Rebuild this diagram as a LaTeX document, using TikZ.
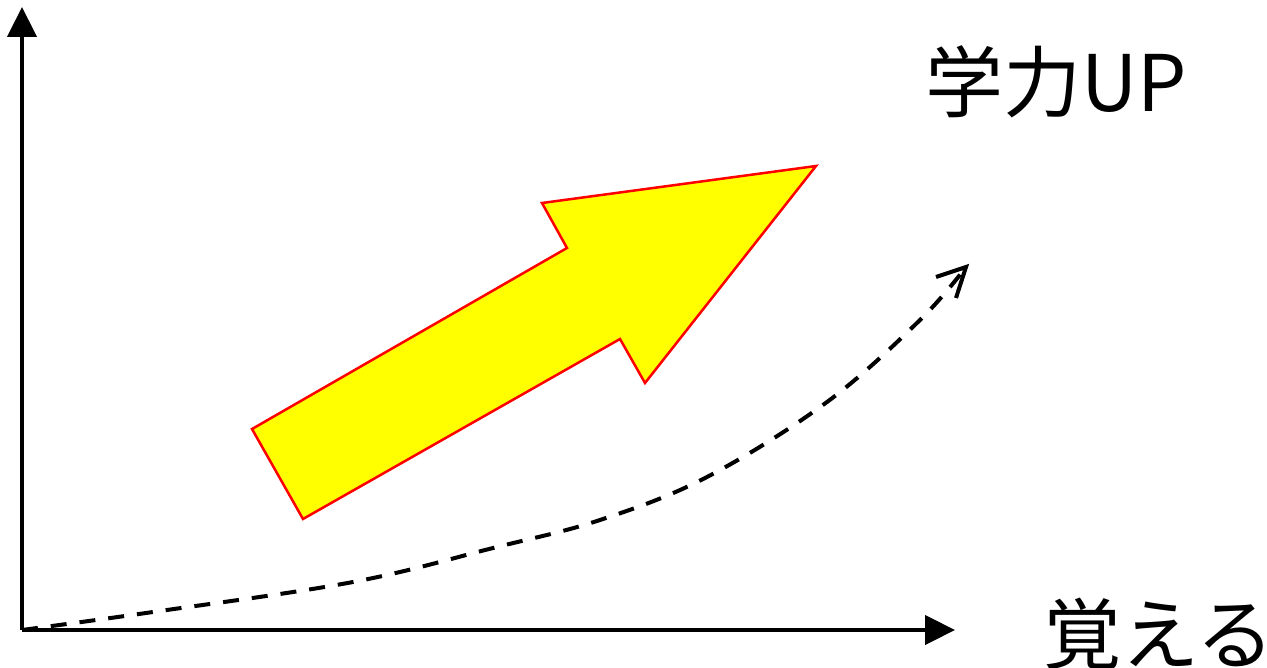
\documentclass[tikz,border=0pt]{standalone}
\usepackage{fontspec}
\newfontfamily\jp{Noto Sans CJK JP}
\usetikzlibrary{arrows.meta,calc}
\definecolor{arrowfill}{RGB}{255,255,0}
\definecolor{arrowline}{RGB}{255,0,0}
\begin{document}
\begin{tikzpicture}[x=1pt,y=-1pt,
  axis/.style={line width=4.5pt,-{Triangle[length=30pt,width=29pt]}},
  trend/.style={line width=4pt,dash pattern=on 16pt off 13pt},
  barb/.style={line width=4pt,line join=miter,line cap=butt},
  bigarrow/.style={fill=arrowfill,draw=arrowline,line width=2.5pt,line join=miter},
  lbl/.style={font=\jp\fontsize{78}{78}\selectfont,inner sep=0pt}]
\useasboundingbox (0,0) rectangle (1267,668);
\coordinate (O) at (22,630);
\coordinate (Y) at (22,7);
\coordinate (X) at (955,630);
\coordinate (E) at (966,267);
\coordinate (B1) at ($(E)+(-30,10)$);
\coordinate (B2) at ($(E)+(-10,31)$);
\draw[axis] (O) -- (Y);
\draw[axis] (O) -- (X);
\draw[trend] plot[smooth,tension=0.6] coordinates {(O) (153,612) (353,582) (493,548) (600,520) (707,477) (827,402) (920,320) (E)};
\draw[barb] (B1) -- (E) -- (B2);
\draw[bigarrow] (252,429) -- (303,519) -- (620,339) -- (645,383) -- (816,166) -- (542,203) -- (567,248) -- cycle;
\node[lbl,anchor=center] (up) at (1056,82) {学力UP};
\node[lbl,anchor=west] (ob) at (1043,634) {覚える};
\end{tikzpicture}
\end{document}
